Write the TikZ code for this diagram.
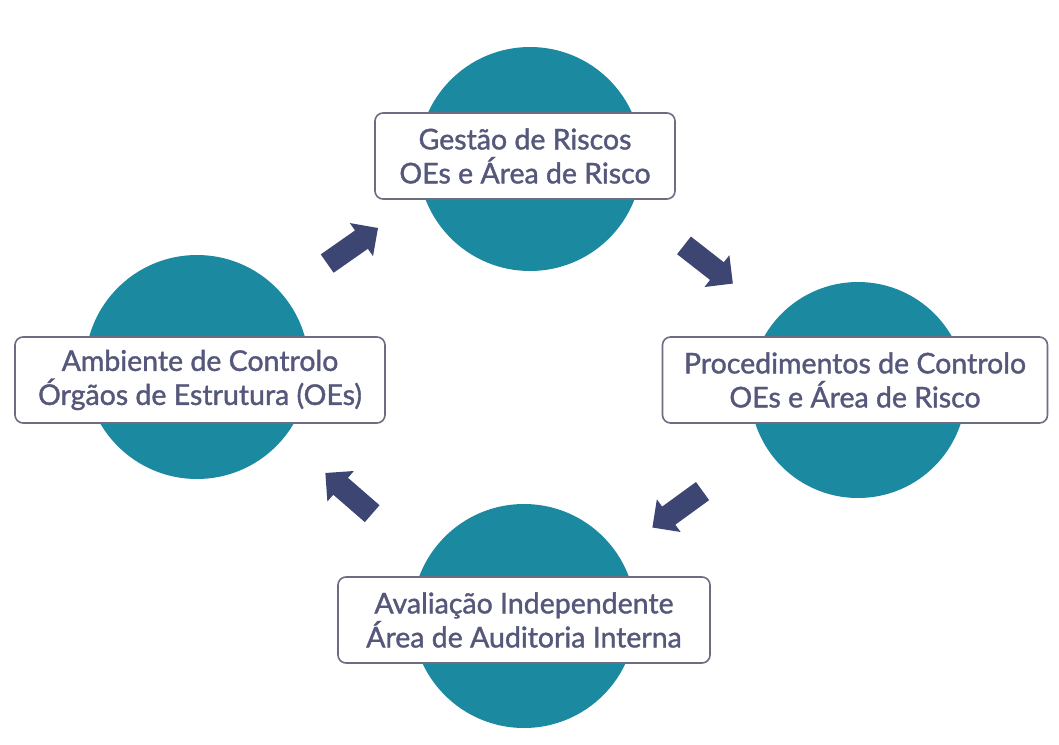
\documentclass[tikz,border=0pt]{standalone}
\usepackage{fontspec}
\setmainfont{Lato}[FakeBold=1.3,UprightFeatures={FakeBold=1.3}]
\usetikzlibrary{shapes.arrows}
\definecolor{teal1}{HTML}{1B8AA0}
\definecolor{txt}{HTML}{55587A}
\definecolor{boxline}{HTML}{6C6D82}
\definecolor{arrowc}{HTML}{3D4573}
\begin{document}
\begin{tikzpicture}[x=1pt,y=-1pt,
  disc/.style={circle,fill=teal1,draw=none,minimum size=224pt,inner sep=0pt},
  label box/.style={draw=boxline,line width=1.6pt,fill=white,rounded corners=8pt,
    align=center,text=txt,font=\fontsize{28.5}{34}\selectfont,minimum height=86pt,inner sep=4pt},
  blockarrow/.style={single arrow,fill=arrowc,draw=none,minimum height=62pt,
    minimum width=40pt,single arrow head extend=9pt,single arrow head indent=0pt,
    inner xsep=0pt,inner ysep=11pt}]
\useasboundingbox (0,0) rectangle (1059,744);
\fill[white] (0,0) rectangle (1059,744);
% circles
\node[disc] (ctop) at (530,159) {};
\node[disc] (cleft) at (197,367) {};
\node[disc,minimum size=216pt] (cright) at (858,390) {};
\node[disc] (cbot) at (524,616) {};
% boxes
\node[label box,minimum width=300pt] (btop) at (525,156) {Gestão de Riscos\\OEs e Área de Risco};
\node[label box,minimum width=370pt] (bleft) at (200,380) {Ambiente de Controlo\\Órgãos de Estrutura (OEs)};
\node[label box,minimum width=385pt] (bright) at (855,380) {Procedimentos de Controlo\\OEs e Área de Risco};
\node[label box,minimum width=372pt] (bbot) at (524,620) {Avaliação Independente\\Área de Auditoria Interna};
% arrows
\node[blockarrow,rotate=35] (a1) at (348,249) {};
\node[blockarrow,rotate=-38] (a2) at (704,261) {};
\node[blockarrow,rotate=-144] (a3) at (682,506) {};
\node[blockarrow,rotate=139] (a4) at (353,497) {};
\end{tikzpicture}
\end{document}
